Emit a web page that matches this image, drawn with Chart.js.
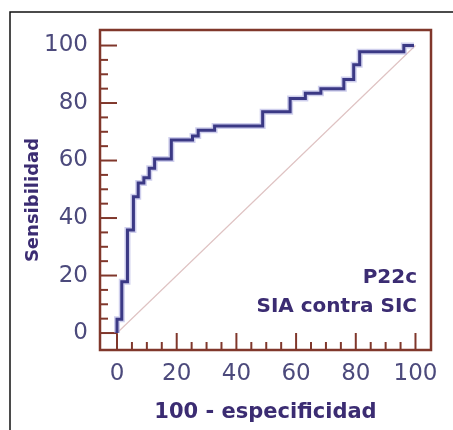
<!DOCTYPE html>
<html>
<head>
<meta charset="utf-8">
<script src="https://cdn.jsdelivr.net/npm/chart.js@4.4.1/dist/chart.umd.min.js"></script>
<style>
  html, body { margin: 0; padding: 0; background: #fff; }
  #wrap { width: 453px; height: 430px; }
</style>
</head>
<body>
<div id="wrap"><canvas id="rocChart" width="453" height="430"></canvas></div>
<script>
// ROC curve, corners (x = 100 - especificidad, y = sensibilidad)
const fpr  = [0, 0, 1.6, 3.5, 5.5, 7.1, 9.0, 10.8, 12.6, 18.2, 25.3, 27.2, 32.7, 48.8, 58.0, 63.1, 68.3, 76.0, 79.3, 81.3, 96.1, 99.5];
const sens = [0, 4.8, 17.8, 35.8, 47.4, 52.2, 54.0, 57.3, 60.5, 67.1, 68.5, 70.5, 72.0, 77.0, 81.6, 83.4, 85.0, 88.2, 93.3, 97.8, 100, 100];
const diagX = [0, 100];
const diagY = [0, 100];
const tickValues = [0, 20, 40, 60, 80, 100];
const notes = ["P22c", "SIA contra SIC"];

const frameColor = "#80372b";
const labelColor = "#4c4a7c";
const titleColor = "#3b2c72";
const font = "DejaVu Sans";

const roc = fpr.map((v, i) => ({ x: v, y: sens[i] }));
const diag = diagX.map((v, i) => ({ x: v, y: diagY[i] }));

const framePlugin = {
  id: "frame",
  beforeDatasetsDraw(chart) {
    const { ctx, chartArea: a, scales: { x, y } } = chart;
    ctx.save();
    ctx.strokeStyle = frameColor;
    ctx.lineWidth = 2;
    for (let v = 0; v <= 100; v += 5) {
      const len = v % 20 === 0 ? 17 : 8;
      const px = x.getPixelForValue(v);
      ctx.beginPath();
      ctx.moveTo(px, a.bottom);
      ctx.lineTo(px, a.bottom - len);
      ctx.stroke();
      const py = y.getPixelForValue(v);
      ctx.beginPath();
      ctx.moveTo(a.left, py);
      ctx.lineTo(a.left + len, py);
      ctx.stroke();
    }
    ctx.lineWidth = 2.5;
    ctx.strokeRect(a.left, a.top, a.right - a.left, a.bottom - a.top);
    ctx.restore();
  },
  afterDraw(chart) {
    const { ctx, chartArea: a } = chart;
    ctx.save();
    // outer picture border (left and top only are in view)
    ctx.strokeStyle = "#111";
    ctx.lineWidth = 1.5;
    ctx.beginPath();
    ctx.moveTo(10, 440);
    ctx.lineTo(10, 12);
    ctx.lineTo(460, 12);
    ctx.stroke();

    ctx.fillStyle = titleColor;
    ctx.font = "bold 20px '" + font + "'";
    ctx.textAlign = "right";
    ctx.textBaseline = "alphabetic";
    ctx.fillText(notes[0], a.right - 14, 283);
    ctx.fillText(notes[1], a.right - 14, 312);

    ctx.translate(33, 200);
    ctx.rotate(-Math.PI / 2);
    ctx.textAlign = "center";
    ctx.textBaseline = "middle";
    ctx.font = "bold 18px '" + font + "'";
    ctx.fillText("Sensibilidad", 0, 0);
    ctx.restore();
  }
};

const ctx = document.getElementById("rocChart").getContext("2d");
new Chart(ctx, {
  type: "scatter",
  data: {
    datasets: [
      { data: roc, showLine: true, stepped: true, borderColor: "#3b3985", borderWidth: 3, pointRadius: 0 },
      { data: roc, showLine: true, stepped: true, borderColor: "rgba(160,160,220,0.5)", borderWidth: 6, pointRadius: 0 },
      { data: diag, showLine: true, borderColor: "#dfc3c3", borderWidth: 1.2, pointRadius: 0 }
    ]
  },
  options: {
    responsive: false,
    animation: false,
    devicePixelRatio: 1,
    layout: { padding: { top: 30, right: 22, left: 0, bottom: 0 } },
    plugins: { legend: { display: false }, tooltip: { enabled: false } },
    scales: {
      x: {
        type: "linear",
        min: -5.7,
        max: 105.2,
        grid: { display: false, drawTicks: false },
        border: { display: false },
        afterBuildTicks: s => { s.ticks = tickValues.map(v => ({ value: v })); },
        afterFit: s => { s.height = 80; },
        ticks: { padding: 10, color: labelColor, autoSkip: false, maxRotation: 0, font: { family: font, size: 23 } },
        title: {
          display: true,
          text: "100 - especificidad",
          color: titleColor,
          font: { family: font, size: 21, weight: "bold" },
          padding: { top: 0, bottom: 5 }
        }
      },
      y: {
        type: "linear",
        min: -5.9,
        max: 105.4,
        grid: { display: false, drawTicks: false },
        border: { display: false },
        afterBuildTicks: s => { s.ticks = tickValues.map(v => ({ value: v })); },
        afterFit: s => { s.width = 100; },
        ticks: { padding: 12, color: labelColor, autoSkip: false, font: { family: font, size: 23 } },
        title: { display: false }
      }
    }
  },
  plugins: [framePlugin]
});
</script>
</body>
</html>
